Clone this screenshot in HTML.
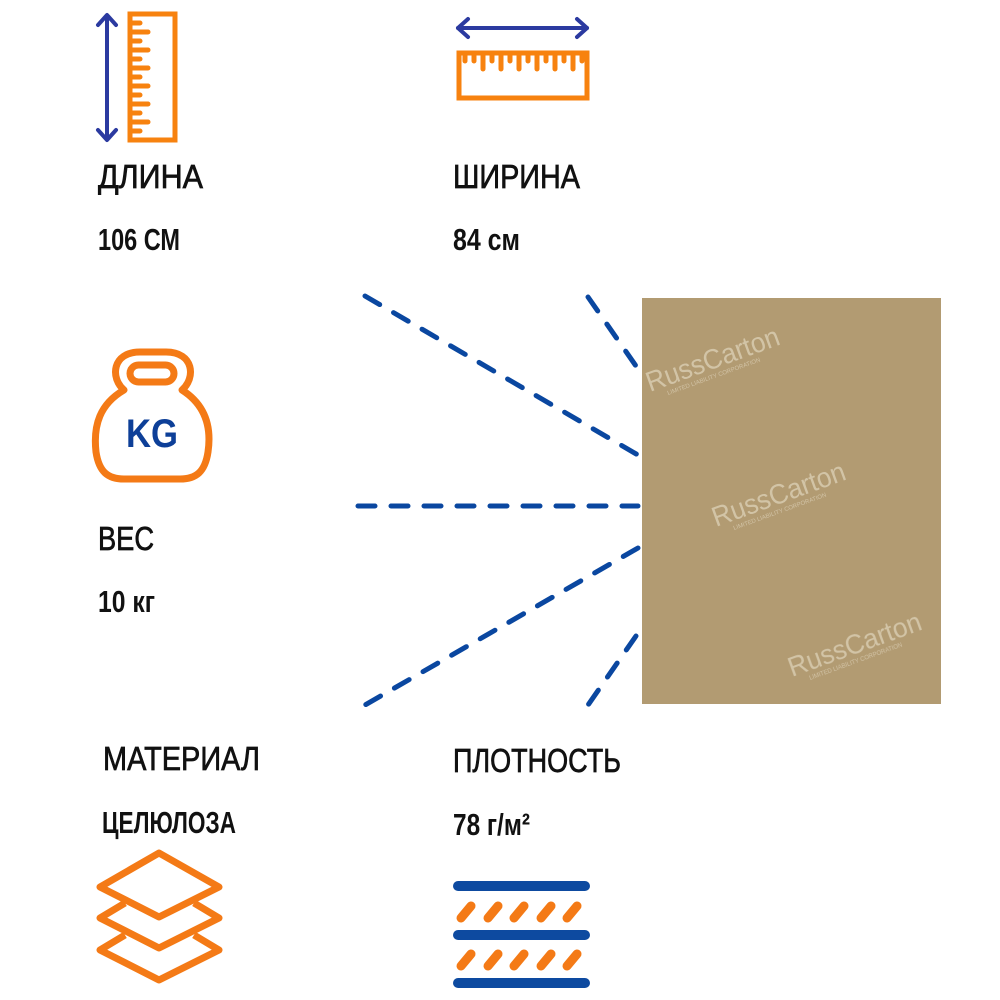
<!DOCTYPE html>
<html><head><meta charset="utf-8"><style>
html,body{margin:0;padding:0;background:#fff;}
svg{display:block;}
.t{font-family:"Liberation Sans","DejaVu Sans",sans-serif;fill:#111;}
.r{stroke:#111;stroke-width:0.7;}
</style></head><body>
<svg width="1000" height="1000" viewBox="0 0 1000 1000" xmlns="http://www.w3.org/2000/svg">
<!-- length icon -->
<g stroke="#2b3aa0" stroke-width="4" fill="none" stroke-linecap="round" stroke-linejoin="round">
<line x1="107" y1="16" x2="107" y2="139"/>
<polyline points="98,25 107,15 116,25"/>
<polyline points="98,130 107,140 116,130"/>
</g>
<g stroke="#f7820f" stroke-width="5" fill="none" stroke-linecap="round">
<rect x="130" y="14" width="45" height="126"/>
<line x1="132" y1="23" x2="140" y2="23"/><line x1="132" y1="32" x2="148" y2="32"/>
<line x1="132" y1="41" x2="140" y2="41"/><line x1="132" y1="50" x2="148" y2="50"/>
<line x1="132" y1="59" x2="140" y2="59"/><line x1="132" y1="68" x2="148" y2="68"/>
<line x1="132" y1="77" x2="140" y2="77"/><line x1="132" y1="86" x2="148" y2="86"/>
<line x1="132" y1="95" x2="140" y2="95"/><line x1="132" y1="104" x2="148" y2="104"/>
<line x1="132" y1="113" x2="140" y2="113"/><line x1="132" y1="122" x2="148" y2="122"/>
<line x1="132" y1="131" x2="140" y2="131"/>
</g>
<!-- width icon -->
<g stroke="#2b3aa0" stroke-width="4" fill="none" stroke-linecap="round" stroke-linejoin="round">
<line x1="458" y1="28" x2="587" y2="28"/>
<polyline points="468,19 458,28 468,37"/>
<polyline points="577,19 587,28 577,37"/>
</g>
<g stroke="#f7820f" stroke-width="5" fill="none" stroke-linecap="round">
<rect x="459" y="53" width="128" height="45"/>
<line x1="465" y1="55" x2="465" y2="61"/><line x1="474" y1="55" x2="474" y2="61"/>
<line x1="483" y1="55" x2="483" y2="69"/><line x1="492" y1="55" x2="492" y2="61"/>
<line x1="501" y1="55" x2="501" y2="69"/><line x1="510" y1="55" x2="510" y2="61"/>
<line x1="519" y1="55" x2="519" y2="69"/><line x1="528" y1="55" x2="528" y2="61"/>
<line x1="537" y1="55" x2="537" y2="69"/><line x1="546" y1="55" x2="546" y2="61"/>
<line x1="555" y1="55" x2="555" y2="69"/><line x1="564" y1="55" x2="564" y2="61"/>
<line x1="573" y1="55" x2="573" y2="69"/><line x1="582" y1="55" x2="582" y2="61"/>
</g>
<!-- kettlebell -->
<g stroke="#f47a16" stroke-width="7" fill="none" stroke-linejoin="round">
<path d="M124,390 C110,378 112,352 140,352 L166,352 C194,352 196,378 182,390 C204,404 212,425 208,452 C205,472 196,479 180,479 L124,479 C108,479 99,472 96,452 C93,425 100,404 124,390 Z"/>
<rect x="130" y="365" width="44" height="17" rx="8.5"/>
</g>
<text x="152" y="447" text-anchor="middle" font-family="Liberation Sans,sans-serif" font-weight="bold" font-size="40" fill="#0d3f98" textLength="52" lengthAdjust="spacingAndGlyphs">KG</text>
<!-- layers -->
<g stroke="#f47a16" stroke-width="7" fill="none" stroke-linejoin="round">
<polygon points="159,853 219,887 159,917 100,887"/>
<polyline points="125,903 100,918 159,948 219,918 194,903"/>
<polyline points="125,935 100,950 159,980 219,950 194,935"/>
</g>
<!-- density -->
<g stroke-linecap="round">
<g stroke="#0d4aa0" stroke-width="10">
<line x1="458" y1="886" x2="585" y2="886"/>
<line x1="458" y1="935" x2="585" y2="935"/>
<line x1="458" y1="983" x2="585" y2="983"/>
</g>
<g stroke="#f47a16" stroke-width="9">
<line x1="461" y1="918" x2="471" y2="906"/><line x1="488" y1="918" x2="498" y2="906"/>
<line x1="514" y1="918" x2="524" y2="906"/><line x1="541" y1="918" x2="551" y2="906"/>
<line x1="567" y1="918" x2="577" y2="906"/>
<line x1="461" y1="966" x2="471" y2="954"/><line x1="488" y1="966" x2="498" y2="954"/>
<line x1="514" y1="966" x2="524" y2="954"/><line x1="541" y1="966" x2="551" y2="954"/>
<line x1="567" y1="966" x2="577" y2="954"/>
</g>
</g>
<!-- dashed lines -->
<g stroke="#0a47a0" stroke-width="5" stroke-linecap="round" stroke-dasharray="17 16" fill="none">
<line x1="365" y1="296" x2="638" y2="455"/>
<line x1="588" y1="297" x2="636" y2="366"/>
<line x1="358" y1="506" x2="638" y2="506"/>
<line x1="638" y1="548" x2="365" y2="705"/>
<line x1="636" y1="636" x2="588" y2="705"/>
</g>
<!-- cardboard -->
<rect x="642" y="298" width="299" height="406" fill="#b29b72"/>
<g fill="#d8cbb0" font-family="Liberation Sans,sans-serif" opacity="0.85">
<g transform="translate(650,392) rotate(-20)"><text font-size="28" textLength="140" lengthAdjust="spacingAndGlyphs">RussCarton</text><text x="16" y="9" font-size="6">LIMITED LIABILITY CORPORATION</text></g>
<g transform="translate(716,527) rotate(-20)"><text font-size="28" textLength="140" lengthAdjust="spacingAndGlyphs">RussCarton</text><text x="16" y="9" font-size="6">LIMITED LIABILITY CORPORATION</text></g>
<g transform="translate(792,677) rotate(-20)"><text font-size="28" textLength="140" lengthAdjust="spacingAndGlyphs">RussCarton</text><text x="16" y="9" font-size="6">LIMITED LIABILITY CORPORATION</text></g>
</g>
<!-- text -->
<text class="t r" x="98" y="188" font-size="33" textLength="105" lengthAdjust="spacingAndGlyphs">ДЛИНА</text>
<text class="t" x="98" y="250" font-size="31" font-weight="bold" textLength="82" lengthAdjust="spacingAndGlyphs">106 СМ</text>
<text class="t r" x="453" y="188" font-size="33" textLength="127" lengthAdjust="spacingAndGlyphs">ШИРИНА</text>
<text class="t" x="453" y="250" font-size="31" font-weight="bold" textLength="67" lengthAdjust="spacingAndGlyphs">84 см</text>
<text class="t r" x="98" y="550" font-size="33" textLength="56" lengthAdjust="spacingAndGlyphs">ВЕС</text>
<text class="t" x="98" y="612" font-size="31" font-weight="bold" textLength="57" lengthAdjust="spacingAndGlyphs">10 кг</text>
<text class="t r" x="103" y="770" font-size="33" textLength="157" lengthAdjust="spacingAndGlyphs">МАТЕРИАЛ</text>
<text class="t" x="102" y="833" font-size="31" font-weight="bold" textLength="134" lengthAdjust="spacingAndGlyphs">ЦЕЛЮЛОЗА</text>
<text class="t r" x="453" y="772" font-size="33" textLength="168" lengthAdjust="spacingAndGlyphs">ПЛОТНОСТЬ</text>
<text class="t" x="453" y="835" font-size="31" font-weight="bold" textLength="77" lengthAdjust="spacingAndGlyphs">78 г/м²</text>
</svg>
</body></html>
